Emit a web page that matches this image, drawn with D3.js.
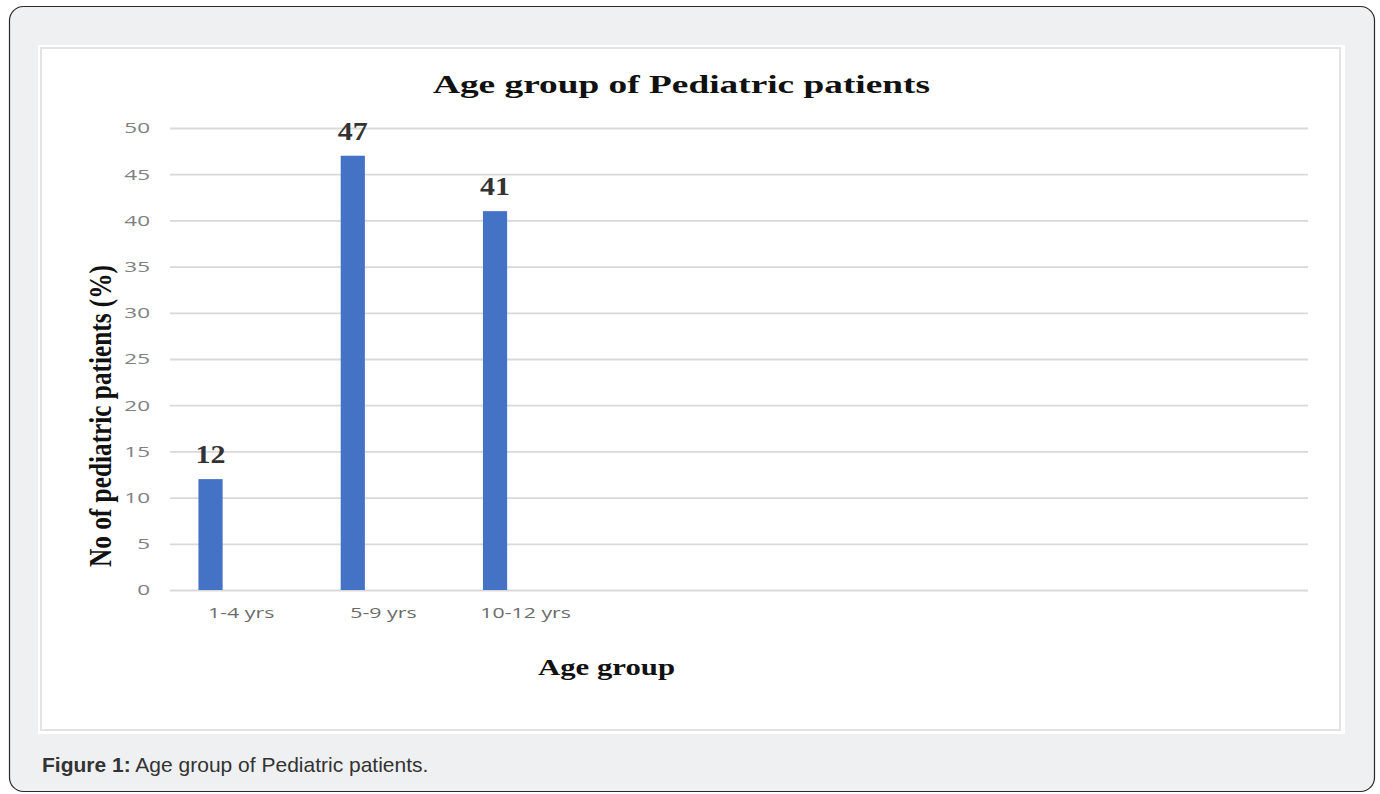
<!DOCTYPE html>
<html>
<head>
<meta charset="utf-8">
<script src="https://d3js.org/d3.v7.min.js"></script>
<style>
  body { margin: 0; background: #fff; }
</style>
</head>
<body>
<svg id="chart" width="1380" height="794"></svg>
<script>
// chart data
const categories = ['1-4 yrs', '5-9 yrs', '10-12 yrs', '', ' ', '  ', '   ', '    '];
const values = [12, 47, 41];
const yTicks = [0, 5, 10, 15, 20, 25, 30, 35, 40, 45, 50];
const titleText = 'Age group of Pediatric patients';
const xTitle = 'Age group';
const yTitle = 'No of pediatric patients (%)';

const svg = d3.select('#chart');
const serif = '"Liberation Serif", "Times New Roman", serif';
const sans = '"Open Sans", "Liberation Sans", sans-serif';

// the source picture is stretched sideways, so widen text to match
function stretch(sel, k) {
  sel.each(function() {
    const w = this.getComputedTextLength();
    if (w > 0) d3.select(this).attr('textLength', w * k).attr('lengthAdjust', 'spacingAndGlyphs');
  });
}

// outer frame
svg.append('rect')
  .attr('x', 9.5).attr('y', 6.5)
  .attr('width', 1365).attr('height', 785)
  .attr('rx', 14)
  .attr('fill', '#eff0f2')
  .attr('stroke', '#2a2a2a')
  .attr('stroke-width', 1.2);

// picture area
svg.append('rect')
  .attr('x', 38).attr('y', 45)
  .attr('width', 1307).attr('height', 689)
  .attr('fill', '#ffffff');
svg.append('rect')
  .attr('x', 41).attr('y', 48)
  .attr('width', 1299).attr('height', 682)
  .attr('fill', 'none')
  .attr('stroke', '#e4e4e4')
  .attr('stroke-width', 2);

const margin = { left: 170, right: 1308, top: 128, bottom: 590 };

const x = d3.scaleBand()
  .domain(categories)
  .range([margin.left, margin.right])
  .padding(0);

const y = d3.scaleLinear()
  .domain([0, 50])
  .range([margin.bottom, margin.top]);

// gridlines + y labels
const yAxis = d3.axisLeft(y)
  .tickValues(yTicks)
  .tickSize(-(margin.right - margin.left))
  .tickPadding(20);

const yg = svg.append('g')
  .attr('transform', `translate(${margin.left},0)`)
  .call(yAxis);
yg.select('.domain').remove();
yg.selectAll('.tick line').attr('stroke', '#d9d9d9').attr('stroke-width', 1.8);
yg.selectAll('.tick text')
  .attr('fill', '#808080')
  .style('font-family', sans)
  .style('font-size', '15px')
  .call(stretch, 1.5);

// x labels
const xAxis = d3.axisBottom(x).tickSize(0).tickPadding(17);
const xg = svg.append('g')
  .attr('transform', `translate(0,${margin.bottom})`)
  .call(xAxis);
xg.select('.domain').remove();
xg.selectAll('.tick text')
  .attr('fill', '#6b6b6b')
  .style('font-family', sans)
  .style('font-size', '15px')
  .call(stretch, 1.42);

// bars (first series sits left in each group)
const barOffset = x.bandwidth() * 0.2;
const barWidth = x.bandwidth() * 0.17;
const barData = values.map((v, i) => ({ cat: categories[i], v }));

svg.selectAll('.bar')
  .data(barData)
  .enter().append('rect')
  .attr('class', 'bar')
  .attr('x', d => x(d.cat) + barOffset)
  .attr('y', d => y(d.v))
  .attr('width', barWidth)
  .attr('height', d => y(0) - y(d.v))
  .attr('fill', '#4472c4');

svg.selectAll('.val')
  .data(barData)
  .enter().append('text')
  .attr('class', 'val')
  .attr('x', d => x(d.cat) + barOffset + barWidth / 2)
  .attr('y', d => y(d.v) - 16)
  .attr('text-anchor', 'middle')
  .attr('fill', '#333')
  .style('font-family', serif)
  .style('font-weight', 'bold')
  .style('font-size', '25px')
  .text(d => d.v)
  .call(stretch, 1.2);

// titles
svg.append('text')
  .attr('x', 433).attr('y', 93)
  .attr('textLength', 497)
  .attr('lengthAdjust', 'spacingAndGlyphs')
  .attr('fill', '#111')
  .style('font-family', serif)
  .style('font-weight', 'bold')
  .style('font-size', '26px')
  .text(titleText);

svg.append('text')
  .attr('x', 538).attr('y', 675)
  .attr('textLength', 137)
  .attr('lengthAdjust', 'spacingAndGlyphs')
  .attr('fill', '#111')
  .style('font-family', serif)
  .style('font-weight', 'bold')
  .style('font-size', '23px')
  .text(xTitle);

svg.append('text')
  .attr('transform', 'translate(111,567) scale(1.2,1) rotate(-90)')
  .attr('textLength', 302)
  .attr('lengthAdjust', 'spacingAndGlyphs')
  .attr('fill', '#111')
  .style('font-family', serif)
  .style('font-weight', 'bold')
  .style('font-size', '27px')
  .text(yTitle);

// caption
const cap = svg.append('text')
  .attr('x', 42).attr('y', 772)
  .attr('fill', '#333')
  .style('font-family', '"Liberation Sans", Arial, sans-serif')
  .style('font-size', '21px');
cap.append('tspan').style('font-weight', 'bold').text('Figure 1:');
cap.append('tspan').text(' Age group of Pediatric patients.');
</script>
</body>
</html>
